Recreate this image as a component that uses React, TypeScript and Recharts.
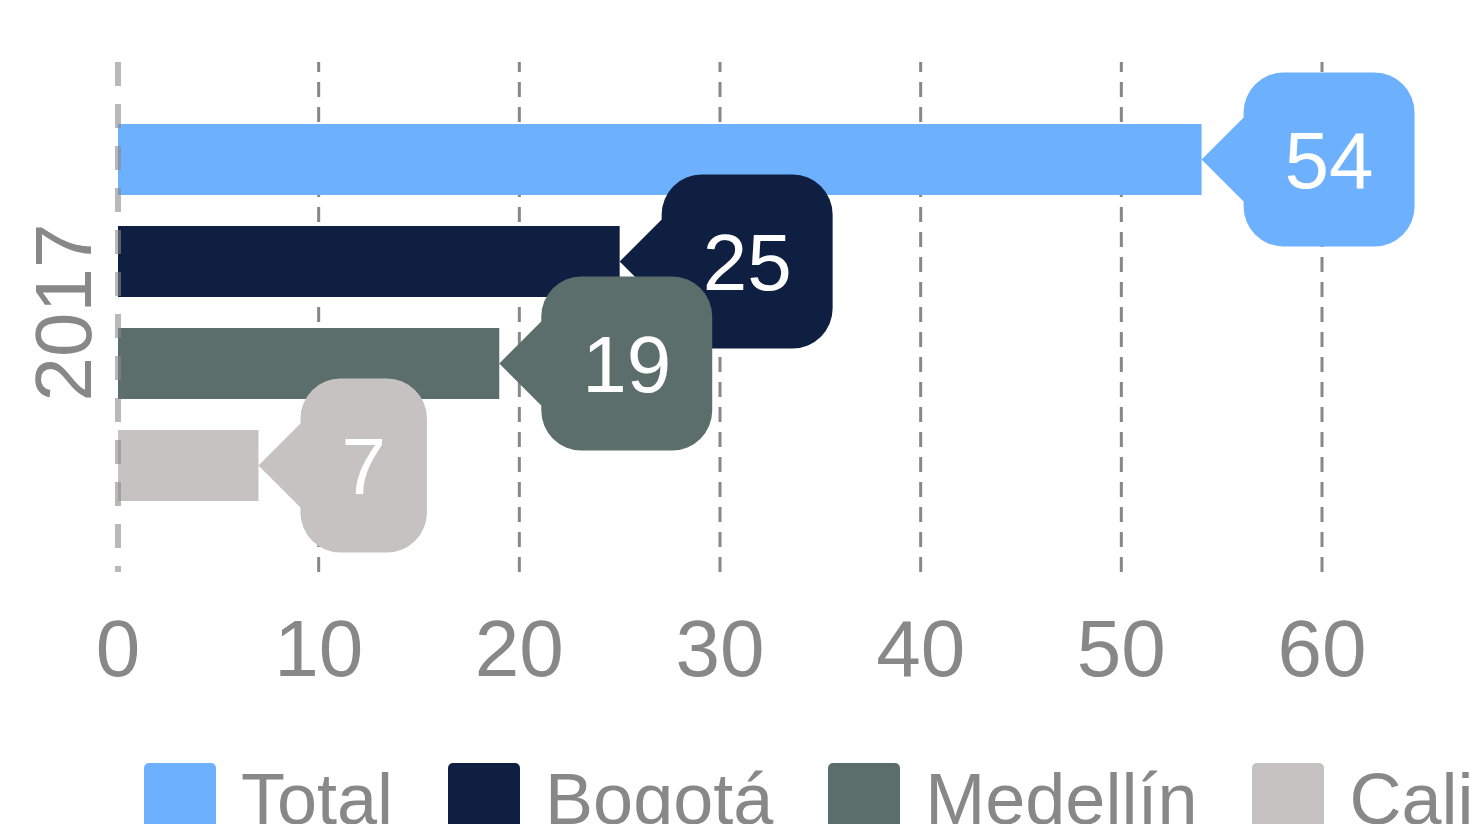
import React from 'react';
import {
  BarChart, Bar, XAxis, YAxis, CartesianGrid, Legend, LabelList, ReferenceLine,
} from 'recharts';

const years = ['2017'];
const seriesNames = ['Total', 'Bogotá', 'Medellín', 'Cali'];
const totalValues = [54];
const bogotaValues = [25];
const medellinValues = [19];
const caliValues = [7];
const xTicks = [0, 10, 20, 30, 40, 50, 60];

const COLORS = ['#6cb0fe', '#0e1f42', '#5c6e6c', '#c5c2c1'];
const FONT = '"Liberation Sans", Arial, sans-serif';
const GRAY = '#888888';

const data = years.map((y, i) => ({
  year: y,
  Total: totalValues[i],
  'Bogotá': bogotaValues[i],
  'Medellín': medellinValues[i],
  Cali: caliValues[i],
}));

// speech-bubble label pointing back at the end of the bar
const makeBubble = (color: string) => (props: any) => {
  const { x, y, width, height, value } = props;
  const fs = 80;
  const xe = Number(x) + Number(width);
  const cy = Number(y) + Number(height) / 2;
  const textW = String(value).length * 0.556 * fs;
  const left = xe + 42;
  const right = left + textW + 82;
  const top = cy - 87;
  const bottom = cy + 87;
  const r = 40;
  const d = [
    `M${left + r},${top}`,
    `H${right - r}`,
    `A${r},${r} 0 0 1 ${right},${top + r}`,
    `V${bottom - r}`,
    `A${r},${r} 0 0 1 ${right - r},${bottom}`,
    `H${left + r}`,
    `A${r},${r} 0 0 1 ${left},${bottom - r}`,
    `V${cy + 42}`,
    `L${xe},${cy}`,
    `L${left},${cy - 42}`,
    `V${top + r}`,
    `A${r},${r} 0 0 1 ${left + r},${top}`,
    'Z',
  ].join(' ');
  return (
    <g>
      <path d={d} fill={color} />
      <text
        x={(left + right) / 2}
        y={cy + 0.358 * fs}
        textAnchor="middle"
        fill="#ffffff"
        fontSize={fs}
        fontFamily={FONT}
      >
        {value}
      </text>
    </g>
  );
};

const YearTick = (props: any) => {
  const { x, y, payload } = props;
  return (
    <text
      x={x}
      y={y}
      transform={`rotate(-90 ${x} ${y})`}
      textAnchor="middle"
      dominantBaseline="central"
      fill={GRAY}
      fontSize={80}
      fontFamily={FONT}
    >
      {payload.value}
    </text>
  );
};

// dashes start from the bottom of the plot, like the original
const GridLine = (props: any) => {
  const { x1, y1, x2, y2 } = props;
  if (props.index === 0) return <g />;
  return (
    <line x1={x2} y1={y2} x2={x1} y2={y1} stroke={GRAY} strokeWidth={3} strokeDasharray="15 10" />
  );
};

const ZeroLine = (props: any) => {
  const { x1, y1, x2, y2 } = props;
  return (
    <line
      x1={x2} y1={y2} x2={x1} y2={y1}
      stroke={GRAY} strokeOpacity={0.6} strokeWidth={6} strokeDasharray="24 18"
    />
  );
};

const LegendContent = () => (
  <div style={{ display: 'flex', alignItems: 'flex-start', whiteSpace: 'nowrap', fontFamily: FONT }}>
    {seriesNames.map((name, i) => (
      <div key={name} style={{ display: 'flex', alignItems: 'flex-start', marginRight: 55 }}>
        <div style={{ width: 72, height: 72, background: COLORS[i], borderRadius: 5, marginRight: 25 }} />
        <span style={{ fontSize: 72, lineHeight: '72px', color: GRAY }}>{name}</span>
      </div>
    ))}
  </div>
);

export default function App() {
  return (
    <div style={{ position: 'absolute', left: 0, top: 0, width: 1471, height: 824, overflow: 'hidden', background: '#fff' }}>
      <BarChart
        width={1471}
        height={824}
        data={data}
        layout="vertical"
        margin={{ top: 62, right: 149, left: 0, bottom: 152 }}
        barSize={71}
        barGap={31}
      >
        <CartesianGrid horizontal={false} vertical={GridLine} />
        <XAxis
          type="number"
          domain={[0, 60]}
          ticks={xTicks}
          axisLine={false}
          tickLine={false}
          tickMargin={41}
          height={100}
          tick={{ fill: GRAY, fontSize: 80, fontFamily: FONT }}
        />
        <YAxis
          type="category"
          dataKey="year"
          width={118}
          axisLine={false}
          tickLine={false}
          tickMargin={49}
          padding={{ top: 0, bottom: 9 }}
          tick={<YearTick />}
        />
        {seriesNames.map((name, i) => (
          <Bar key={name} dataKey={name} fill={COLORS[i]} isAnimationActive={false}>
            <LabelList dataKey={name} content={makeBubble(COLORS[i])} />
          </Bar>
        ))}
        <ReferenceLine x={0} shape={ZeroLine} />
        <Legend
          content={<LegendContent />}
          wrapperStyle={{ position: 'absolute', left: 144, top: 763, width: 1600, height: 0 }}
        />
      </BarChart>
    </div>
  );
}
